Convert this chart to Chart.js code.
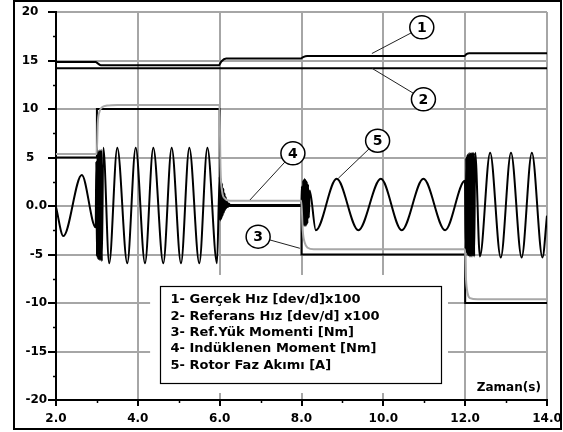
<!DOCTYPE html>
<html>
<head>
<meta charset="utf-8">
<script src="https://cdn.jsdelivr.net/npm/chart.js@4.4.1/dist/chart.umd.min.js"></script>
<style>
  html, body { margin: 0; padding: 0; background: #fff; }
  canvas { display: block; }
</style>
</head>
<body>
<canvas id="c" width="563" height="432"></canvas>
<script>
// ---- axis ticks -------------------------------------------------------
const xTickValues = [2, 4, 6, 8, 10, 12, 14];
const yTickValues = [-20, -15, -10, -5, 0, 5, 10, 15, 20];

// ---- legend text ------------------------------------------------------
const legendLines = [
  '1- Gerçek Hız [dev/d]x100',
  '2- Referans Hız [dev/d] x100',
  '3- Ref.Yük Momenti [Nm]',
  '4- Indüklenen Moment [Nm]',
  '5- Rotor Faz Akımı [A]'
];
const xAxisTitle = 'Zaman(s)';

// ---- 1: actual speed (rpm / 100) --------------------------------------
const speedActT = [2, 2.97, 3.02, 3.1, 5.98, 6.04, 6.16, 7.98, 8.04, 8.14, 11.98, 12.03, 12.1, 14];
const speedActV = [14.85, 14.85, 14.7, 14.5, 14.5, 14.9, 15.2, 15.2, 15.35, 15.46, 15.46, 15.65, 15.74, 15.74];

// ---- 2: reference speed (rpm / 100) -----------------------------------
const speedRefT = [2, 14];
const speedRefV = [14.2, 14.2];

// ---- 3: load torque reference, stepped (Nm) ---------------------------
const loadT = [2, 3, 6, 8, 12, 14];
const loadV = [5, 10, 0, -5, -10, -10];

// ---- 4: induced torque (Nm) -------------------------------------------
const torqueT = [2, 2.995, 3.02, 3.06, 3.12, 3.25, 3.5,
                 5.995, 6.02, 6.06, 6.12, 6.25,
                 7.995, 8.03, 8.08, 8.15, 8.3,
                 11.995, 12.02, 12.06, 12.12, 12.3, 14];
const torqueV = [5.35, 5.35, 8.5, 9.7, 10.15, 10.35, 10.42,
                 10.42, 4.0, 1.5, 0.8, 0.55,
                 0.55, -2.5, -3.8, -4.3, -4.45,
                 -4.45, -7.5, -9.0, -9.5, -9.62, -9.62];

// ---- 5: rotor phase current (A), peaks / troughs ----------------------
const currentT = [
  2.0, 2.18, 2.63, 2.97,
  2.985, 3.0, 3.015, 3.03, 3.045, 3.06, 3.075, 3.09, 3.105, 3.12,
  3.156, 3.30, 3.498, 3.742, 3.948, 4.175, 4.378, 4.622, 4.827, 5.055, 5.258, 5.502, 5.70, 5.935,
  6.0, 6.015, 6.03, 6.045, 6.06, 6.075, 6.09, 6.105, 6.12, 6.135, 6.15, 6.165, 6.18, 6.2, 6.22, 6.26,
  7.995, 8.01, 8.025, 8.04, 8.055, 8.07, 8.085, 8.1, 8.115, 8.13, 8.145, 8.16, 8.18, 8.2,
  8.35, 8.86, 9.39, 9.94, 10.45, 10.98, 11.51, 11.995,
  12.01, 12.025, 12.04, 12.055, 12.07, 12.085, 12.1, 12.115, 12.13, 12.145, 12.16, 12.175, 12.19, 12.205, 12.22, 12.245,
  12.36, 12.61, 12.87, 13.12, 13.38, 13.63, 13.89, 14.0
];
const currentV = [
  -0.1, -3.1, 3.2, -2.2,
  4.6, -5.2, 5.5, -5.5, 5.7, -5.6, 5.8, -5.6, 5.8, -5.7,
  6.0, -5.9, 6.0, -5.9, 6.0, -5.9, 6.0, -5.9, 6.0, -5.9, 6.0, -5.9, 6.0, -5.9,
  3.0, -1.5, 2.8, -1.3, 2.3, -1.0, 1.8, -0.7, 1.3, -0.4, 0.9, -0.2, 0.5, -0.1, 0.25, 0.1,
  0.1, 2.0, -1.6, 2.6, -2.0, 2.8, -2.1, 2.7, -2.0, 2.5, -1.8, 2.2, -1.2, 1.6,
  -2.5, 2.8, -2.5, 2.8, -2.5, 2.8, -2.5, 2.6,
  -4.5, 5.0, -4.9, 5.3, -5.1, 5.4, -5.2, 5.5, -5.2, 5.5, -5.2, 5.5, -5.2, 5.5, -5.2, 5.5,
  -5.2, 5.5, -5.3, 5.5, -5.3, 5.5, -5.3, -1.0
];

// ---- numbered callouts (circle centre and leader end, data units) -----
const callouts = [
  { n: '1', at: [10.94, 18.42], to: [9.72, 15.72] },
  { n: '2', at: [10.98, 11.0],  to: [9.72, 14.2] },
  { n: '3', at: [6.94, -3.16],  to: [7.96, -4.36] },
  { n: '4', at: [7.79, 5.43],   to: [6.74, 0.62] },
  { n: '5', at: [9.86, 6.73],   to: [8.90, 2.86] }
];

const toXY = (t, v) => t.map((x, i) => ({ x, y: v[i] }));

const GRID = '#a6a6a6';
const GRAY_LINE = '#a8a8a8';
const FONT = 'DejaVu Sans';
const clear = 'rgba(0,0,0,0)';

const decor = {
  id: 'decor',
  beforeDraw(chart) {
    const c = chart.ctx;
    c.save();
    c.fillStyle = '#fff';
    c.fillRect(0, 0, chart.width, chart.height);
    c.restore();
  },
  afterDatasetsDraw(chart) {
    const c = chart.ctx;
    const xs = chart.scales.x, ys = chart.scales.y;
    const px = v => xs.getPixelForValue(v);
    const py = v => ys.getPixelForValue(v);

    // legend panel: white margin, framed box, text
    c.save();
    c.fillStyle = '#fff';
    const wl = px(4.3), wr = px(11.58), wt = py(-7.11), wb = py(-19.28);
    c.fillRect(wl, wt, wr - wl, wb - wt);
    const bl = Math.round(px(4.53)) + 0.5, br = Math.round(px(11.42)) + 0.5;
    const bt = Math.round(py(-8.2)) + 0.5, bb = Math.round(py(-18.2)) + 0.5;
    c.strokeStyle = '#000';
    c.lineWidth = 1.2;
    c.strokeRect(bl, bt, br - bl, bb - bt);
    c.fillStyle = '#000';
    c.font = 'bold 13px "' + FONT + '"';
    c.textAlign = 'left';
    c.textBaseline = 'middle';
    legendLines.forEach((s, i) => c.fillText(s, bl + 10, bt + 13.5 + i * 16.3));
    c.restore();

    // numbered callouts with leader lines
    c.save();
    const r = 12;
    callouts.forEach(k => {
      const cx = px(k.at[0]), cy = py(k.at[1]);
      const tx = px(k.to[0]), ty = py(k.to[1]);
      const a = Math.atan2(ty - cy, tx - cx);
      c.strokeStyle = '#222';
      c.lineWidth = 1;
      c.beginPath();
      c.moveTo(cx + r * Math.cos(a), cy + r * Math.sin(a));
      c.lineTo(tx, ty);
      c.stroke();
      c.beginPath();
      c.ellipse(cx, cy, r, r - 0.5, 0, 0, Math.PI * 2);
      c.fillStyle = '#fff';
      c.fill();
      c.lineWidth = 1.5;
      c.strokeStyle = '#000';
      c.stroke();
      c.fillStyle = '#000';
      c.font = 'bold 14px "' + FONT + '"';
      c.textAlign = 'center';
      c.textBaseline = 'middle';
      c.fillText(k.n, cx, cy + 1);
    });
    c.restore();

    // axis title inside the plot, lower right
    c.save();
    c.fillStyle = '#000';
    c.font = 'bold 12px "' + FONT + '"';
    c.textAlign = 'right';
    c.textBaseline = 'middle';
    c.fillText(xAxisTitle, px(13.85), py(-18.7));
    c.restore();
  },
  afterDraw(chart) {
    const c = chart.ctx;
    const xs = chart.scales.x, ys = chart.scales.y;
    const a = chart.chartArea;
    c.save();
    c.strokeStyle = '#000';
    c.lineWidth = 1.5;
    // minor tick marks between the labelled ones
    xs.ticks.forEach(t => {
      if (t.value % 2 !== 0) {
        const x = Math.round(xs.getPixelForValue(t.value)) + 0.5;
        c.beginPath(); c.moveTo(x, a.bottom); c.lineTo(x, a.bottom + 3); c.stroke();
      }
    });
    ys.ticks.forEach(t => {
      if (t.value % 5 !== 0) {
        const y = Math.round(ys.getPixelForValue(t.value)) + 0.5;
        c.beginPath(); c.moveTo(a.left - 3, y); c.lineTo(a.left, y); c.stroke();
      }
    });
    // outer frame
    c.lineWidth = 2;
    c.strokeRect(14, 1, 547, 428);
    c.restore();
  }
};

new Chart(document.getElementById('c'), {
  type: 'line',
  data: {
    datasets: [
      { label: legendLines[3], data: toXY(torqueT, torqueV), borderColor: GRAY_LINE, borderWidth: 2,
        pointRadius: 0, cubicInterpolationMode: 'monotone', fill: false },
      { label: legendLines[2], data: toXY(loadT, loadV), borderColor: '#000', borderWidth: 2,
        pointRadius: 0, stepped: true, fill: false },
      { label: legendLines[4], data: toXY(currentT, currentV), borderColor: '#000', borderWidth: 2,
        pointRadius: 0, cubicInterpolationMode: 'monotone', fill: false },
      { label: legendLines[1], data: toXY(speedRefT, speedRefV), borderColor: '#000', borderWidth: 2,
        pointRadius: 0, fill: false },
      { label: legendLines[0], data: toXY(speedActT, speedActV), borderColor: '#000', borderWidth: 2,
        pointRadius: 0, cubicInterpolationMode: 'monotone', fill: false }
    ]
  },
  options: {
    responsive: false,
    animation: false,
    events: [],
    layout: { padding: { top: 12, right: 16, left: 0, bottom: 0 } },
    plugins: { legend: { display: false }, tooltip: { enabled: false } },
    scales: {
      x: {
        type: 'linear', min: 2, max: 14,
        afterBuildTicks: s => { s.ticks = [2,3,4,5,6,7,8,9,10,11,12,13,14].map(v => ({ value: v })); },
        ticks: {
          autoSkip: false, maxRotation: 0, padding: 6, color: '#000',
          font: { family: FONT, weight: 'bold', size: 12 },
          callback: v => (xTickValues.includes(v) ? v.toFixed(1) : '')
        },
        grid: {
          color: c => (c.tick && xTickValues.includes(c.tick.value) && c.tick.value !== 2 ? GRID : clear),
          lineWidth: 2, tickLength: 6, tickWidth: 2,
          tickColor: c => (c.tick && xTickValues.includes(c.tick.value) ? '#000' : clear)
        },
        border: { color: '#000', width: 2 },
        afterFit: s => { s.height = 32; s.paddingLeft = 0; s.paddingRight = 0; }
      },
      y: {
        type: 'linear', min: -20, max: 20,
        afterBuildTicks: s => {
          const t = [];
          for (let v = -20; v <= 20; v += 2.5) t.push({ value: v });
          s.ticks = t;
        },
        ticks: {
          autoSkip: false, color: '#000', crossAlign: 'center', padding: -3,
          font: { family: FONT, weight: 'bold', size: 12 },
          callback: v => {
            if (!yTickValues.includes(v)) return '';
            if (v === 0) return '0.0';
            return v > 0 ? v + '   ' : String(v);
          }
        },
        grid: {
          color: c => (c.tick && yTickValues.includes(c.tick.value) && c.tick.value !== -20 ? GRID : clear),
          lineWidth: 2, tickLength: 8, tickWidth: 2,
          tickColor: c => (c.tick && yTickValues.includes(c.tick.value) ? '#000' : clear)
        },
        border: { color: '#000', width: 2 },
        afterFit: s => { s.width = 56; s.paddingTop = 0; s.paddingBottom = 0; }
      }
    }
  },
  plugins: [decor]
});
</script>
</body>
</html>
